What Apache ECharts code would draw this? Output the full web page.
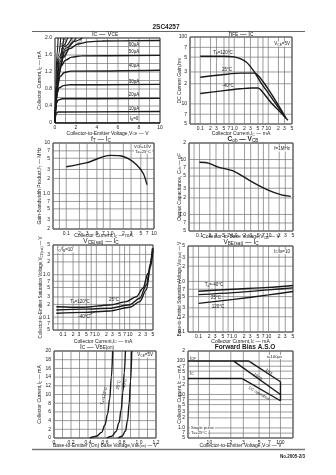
<!DOCTYPE html>
<html>
<head>
<meta charset="utf-8">
<script src="https://cdn.jsdelivr.net/npm/echarts@6/dist/echarts.min.js"></script>
<style>
html,body{margin:0;padding:0;background:#fff;}
#sheet{width:336px;height:475px;}
</style>
</head>
<body>
<div id="sheet"></div>
<script>
// ---------- IC – VCE (IC in mA, VCE in V) ----------
const vceIb60 = [[0,0],[0.15,0.6],[0.4,1.2],[0.8,1.55],[1.4,1.75],[2.2,1.86],[3.2,1.91],[4.5,1.93],[10,1.94]];
const vceIb50 = [[0,0],[0.12,0.55],[0.3,1.05],[0.6,1.35],[1.0,1.48],[1.6,1.55],[2.5,1.58],[10,1.59]];
const vceIb40 = [[0,0],[0.1,0.5],[0.25,0.9],[0.5,1.1],[0.9,1.19],[1.5,1.22],[10,1.24]];
const vceIb30 = [[0,0],[0.08,0.4],[0.2,0.7],[0.4,0.83],[0.8,0.88],[1.4,0.9],[10,0.91]];
const vceIb20 = [[0,0],[0.06,0.3],[0.15,0.47],[0.3,0.54],[0.7,0.57],[10,0.58]];
const vceIb10 = [[0,0],[0.05,0.15],[0.12,0.23],[0.3,0.26],[10,0.27]];
const vceIb0  = [[0,0],[10,0]];
const vceHighIb = [
  [[0,0],[0.08,0.9],[0.18,1.6],[0.3,2.0]],
  [[0,0],[0.1,0.85],[0.3,1.58],[0.55,2.0]],
  [[0,0],[0.12,0.8],[0.4,1.55],[0.85,2.0]],
  [[0,0],[0.13,0.75],[0.45,1.5],[0.8,1.82],[1.2,2.0]],
  [[0,0],[0.14,0.72],[0.45,1.42],[0.9,1.8],[1.6,2.0]],
  [[0,0],[0.15,0.68],[0.45,1.36],[1.0,1.76],[2.0,2.0]],
  [[0,0],[0.15,0.64],[0.45,1.3],[1.0,1.7],[1.8,1.92],[2.6,2.0]]
];
const vceIbText = ['60µA','50µA','40µA','30µA','20µA','10µA','I{s|B}=0'];
const vceHighText = ['100µA','80µA','70µA'];
const vceXGrid = [0,1,2,3,4,5,6,7,8,9,10];
const vceXLabelVals = [0,2,4,6,8,10];
const vceXLabelText = ['0','2','4','6','8','10'];
const vceYGrid = [0,0.2,0.4,0.6,0.8,1.0,1.2,1.4,1.6,1.8,2.0];
const vceYLabelVals = [0,0.4,0.8,1.2,1.6,2.0];
const vceYLabelText = ['0','0.4','0.8','1.2','1.6','2.0'];

// ---------- shared log ticks for IC / VCB axes 0.05 … 50 ----------
const decX50Grid = [0.05,0.07,0.1,0.2,0.3,0.5,0.7,1,2,3,5,7,10,20,30,50];
const decX50LabelVals = [0.1,0.2,0.3,0.5,0.7,1,2,3,5,7,10,20,30,50];
const decX50LabelText = ['0.1','2','3','5','7','1.0','2','3','5','7','10','2','3','5'];

// ---------- hFE – IC ----------
const hfeTa120 = [[0.1,51.5],[0.5,51.5],[1.0,50.5],[1.5,47.5],[2.3,42],[3,36],[4,29.5],[6,21],[10,14.5],[20,8.8],[33,6.1]];
const hfeTa25  = [[0.1,25],[0.5,27.5],[1.6,28.8],[4,28.8],[5.6,25],[7.5,20.5],[9.9,16.7],[20,9.5],[33,6.2]];
const hfeTaM40 = [[0.1,14.3],[0.5,15.8],[1.5,16.8],[3.2,17.3],[5,17.3],[7,14.8],[12,10.5],[20,8.0],[38,5.7]];
const hfeYGrid = [5,7,10,20,30,50,70,100];
const hfeYLabelText = ['5','7','10','2','3','5','7','100'];

// ---------- fT – IC ----------
const ftIc = [[0.1,3.4],[0.3,4.1],[1.0,5.7],[1.7,5.6],[2.6,4.9],[4,3.7],[5.7,2.5],[6.9,1.5]];
const ftXGrid = [0.05,0.07,0.1,0.2,0.3,0.5,0.7,1,2,3,5,7,10];
const ftXLabelVals = [0.1,0.2,0.3,0.5,0.7,1,2,3,5,7,10];
const ftXLabelText = ['0.1','2','3','5','7','1.0','2','3','5','7','10'];
const ftYGrid = [0.2,0.3,0.5,0.7,1,2,3,5,7,10];
const ftYLabelText = ['2','3','5','7','1.0','2','3','5','7','10'];

// ---------- Cob – VCB ----------
const cobVcb = [[0.1,8.9],[0.18,8.6],[0.35,7.3],[1.0,6.1],[3.1,4.0],[9.2,2.8],[22,2.3],[43,2.13]];
const cobYGrid = [0.5,0.7,1,2,3,5,7,10,20];
const cobYLabelText = ['5','7','1.0','2','3','5','7','10','2'];

// ---------- VCE(sat) – IC ----------
const vceSatTa120 = [[0.063,0.176],[0.4,0.171],[2.5,0.194],[7.9,0.232],[15.8,0.304],[25,0.48],[35.5,1.08],[50,4.2]];
const vceSatTa25  = [[0.063,0.148],[0.4,0.155],[2.5,0.162],[10,0.197],[20,0.279],[31.6,0.573],[42,1.85],[48,4.2]];
const vceSatTaM40 = [[0.063,0.124],[0.4,0.13],[2.5,0.14],[10,0.171],[20,0.232],[31.6,0.44],[42,1.54],[50,3.8]];
const vceSatYGrid = [0.05,0.07,0.1,0.2,0.3,0.5,0.7,1,2,3,5];
const vceSatYLabelText = ['5','7','0.1','2','3','5','7','1.0','2','3','5'];

// ---------- VBE(sat) – IC ----------
const vbeSatTaM40 = [[0.1,0.64],[1,0.7],[10,0.76],[50,0.83]];
const vbeSatTa25  = [[0.1,0.548],[1,0.6],[10,0.68],[50,0.745]];
const vbeSatTa120 = [[0.1,0.368],[1,0.44],[10,0.54],[50,0.63]];
const vbeSatYGrid = [0.1,0.2,0.3,0.5,0.7,1,2,3,5];
const vbeSatYLabelText = ['0.1','2','3','5','7','1.0','2','3','5'];

// ---------- IC – VBE(on) ----------
const icVbeTa120 = [[0.42,0],[0.5,0.4],[0.56,1.3],[0.6,3],[0.63,5.5],[0.655,9],[0.675,14],[0.69,20]];
const icVbeTa25  = [[0.62,0],[0.68,0.4],[0.73,1.5],[0.765,3.5],[0.79,6.5],[0.81,10.5],[0.827,15],[0.84,20]];
const icVbeTaM40 = [[0.755,0],[0.8,0.4],[0.84,1.6],[0.865,4],[0.885,8],[0.9,13],[0.915,20]];
const vbeXGrid = [0,0.1,0.2,0.3,0.4,0.5,0.6,0.7,0.8,0.9,1.0,1.1,1.2];
const vbeXLabelVals = [0,0.2,0.4,0.6,0.8,1.0,1.2];
const vbeXLabelText = ['0','0.2','0.4','0.6','0.8','1.0','1.2'];
const vbeYGrid = [0,2,4,6,8,10,12,14,16,18,20];
const vbeYLabelText = ['0','2','4','6','8','10','12','14','16','18','20'];

// ---------- Forward bias A.S.O ----------
const asoIcp   = [[5,100],[36,100]];
const aso10ms  = [[22,100],[100,10]];
const aso1ms   = [[36,100],[100,24]];
const asoIc    = [[5,30],[29,30]];
const asoDc    = [[29,30],[100,6.5]];
const asoVceo  = [[100,24],[100,6.5]];
const asoXGrid = [5,7,10,20,30,50,70,100,150];
const asoXLabelVals = [10,20,30,50,70,100];
const asoXLabelText = ['10','2','3','5','7','100'];
const asoYGrid = [0.5,0.7,1,2,3,5,7,10,20,30,50,70,100,200];
const asoYLabelText = ['5','7','1.0','2','3','5','7','10','2','3','5','7','100','2'];

// ---------- drawing ----------
const FONT = '"Liberation Sans", Arial, sans-serif';
const INK = '#1a1a1a';
const GRIDC = '#727272';

const panels = [
  {box:[55,38,105,85],  x:['value',0,10,vceXGrid,vceXLabelVals,vceXLabelText], y:['value',0,2,vceYGrid,vceYLabelVals,vceYLabelText]},
  {box:[190,37,102,87], x:['log',0.05,50,decX50Grid,decX50LabelVals,decX50LabelText], y:['log',5,100,hfeYGrid,hfeYGrid,hfeYLabelText]},
  {box:[53,143,101,86], x:['log',0.05,10,ftXGrid,ftXLabelVals,ftXLabelText], y:['log',0.2,10,ftYGrid,ftYGrid,ftYLabelText]},
  {box:[189,143,104,88],x:['log',0.05,50,decX50Grid,decX50LabelVals,decX50LabelText], y:['log',0.5,20,cobYGrid,cobYGrid,cobYLabelText]},
  {box:[53,245,100,85], x:['log',0.05,50,decX50Grid,decX50LabelVals,decX50LabelText], y:['log',0.05,5,vceSatYGrid,vceSatYGrid,vceSatYLabelText]},
  {box:[188,246,105,86],x:['log',0.05,50,decX50Grid,decX50LabelVals,decX50LabelText], y:['log',0.1,5,vbeSatYGrid,vbeSatYGrid,vbeSatYLabelText]},
  {box:[54,351,102,87], x:['value',0,1.2,vbeXGrid,vbeXLabelVals,vbeXLabelText], y:['value',0,20,vbeYGrid,vbeYGrid,vbeYLabelText]},
  {box:[188,351,105,87],x:['log',5,150,asoXGrid,asoXLabelVals,asoXLabelText], y:['log',0.5,200,asoYGrid,asoYGrid,asoYLabelText]}
];

function labeler(vals, texts) {
  return function (v) {
    for (let i = 0; i < vals.length; i++) {
      if (Math.abs(vals[i] - v) <= 1e-6 * Math.abs(vals[i]) + 1e-9) return texts[i];
    }
    return '';
  };
}

function axis(idx, spec, isY) {
  const [type, min, max, gridVals, labelVals, labelTexts] = spec;
  const a = {
    gridIndex: idx, type, min, max,
    axisLine: {show: false},
    axisTick: {show: false},
    splitLine: {show: false},
    axisLabel: {
      customValues: labelVals,
      formatter: labeler(labelVals, labelTexts),
      fontSize: 5, fontFamily: FONT, color: INK,
      margin: isY ? 3 : 2
    }
  };
  if (type === 'log') a.logBase = 10;
  return a;
}

const series = [];

// ruled graph-paper lines at the listed x / y values of each panel
function paper(p, xs, ys) {
  series.push({
    type: 'custom', xAxisIndex: p, yAxisIndex: p, silent: true, animation: false, z: 1,
    data: [[xs[0], ys[0]]],
    renderItem: function (params, api) {
      const children = [];
      const yLo = ys[0], yHi = ys[ys.length - 1];
      const xLo = xs[0], xHi = xs[xs.length - 1];
      xs.forEach(function (x) {
        const a = api.coord([x, yLo]), b = api.coord([x, yHi]);
        children.push({type: 'line', shape: {x1: a[0], y1: a[1], x2: b[0], y2: b[1]}, style: {stroke: GRIDC, lineWidth: 0.7}});
      });
      ys.forEach(function (y) {
        const a = api.coord([xLo, y]), b = api.coord([xHi, y]);
        children.push({type: 'line', shape: {x1: a[0], y1: a[1], x2: b[0], y2: b[1]}, style: {stroke: GRIDC, lineWidth: 0.7}});
      });
      return {type: 'group', children};
    }
  });
}
panels.forEach((p, i) => paper(i, p.x[3], p.y[3]));

function curve(p, data, opt) {
  opt = opt || {};
  series.push({
    type: 'line', xAxisIndex: p, yAxisIndex: p, data,
    showSymbol: false, symbol: 'none',
    smooth: opt.smooth === undefined ? 0.3 : opt.smooth,
    smoothMonotone: opt.mono,
    lineStyle: {color: INK, width: opt.w || 1.4},
    silent: true, animation: false, z: 3
  });
}

[vceIb60, vceIb50, vceIb40, vceIb30, vceIb20, vceIb10, vceIb0].forEach(d => curve(0, d, {mono: 'x', smooth: 0.4}));
vceHighIb.forEach(d => curve(0, d, {mono: 'x', smooth: 0.4, w: 1.1}));
[hfeTa120, hfeTa25, hfeTaM40].forEach(d => curve(1, d));
curve(2, ftIc);
curve(3, cobVcb);
[vceSatTa120, vceSatTa25, vceSatTaM40].forEach(d => curve(4, d, {mono: 'x'}));
[vbeSatTaM40, vbeSatTa25, vbeSatTa120].forEach(d => curve(5, d));
[icVbeTa120, icVbeTa25, icVbeTaM40].forEach(d => curve(6, d, {mono: 'x', smooth: 0.4}));
[asoIcp, aso10ms, aso1ms, asoIc, asoDc, asoVceo].forEach(d => curve(7, d, {smooth: false}));

function rich(size) {
  return {s: {fontSize: size * 0.72, fontFamily: FONT, fill: INK, verticalAlign: 'bottom'}};
}
function txt(x, y, text, o) {
  o = o || {};
  const size = o.size || 5;
  const st = {
    text, fontSize: size, fontFamily: FONT, fontWeight: o.bold ? 'bold' : 'normal',
    fill: o.color || INK, textAlign: o.align || 'center', textVerticalAlign: 'middle',
    align: o.align || 'center', verticalAlign: 'middle', rich: rich(size)
  };
  if (o.bg) { st.backgroundColor = '#fff'; st.padding = [0, 1]; }
  return {type: 'text', x, y, rotation: o.rot || 0, z: 20, silent: true, style: st};
}
function rule(x1, y1, x2, y2, w, c) {
  return {type: 'line', z: 20, silent: true, shape: {x1, y1, x2, y2}, style: {stroke: c || INK, lineWidth: w || 1}};
}
const R90 = Math.PI / 2;

const graphics = [
  // page header / footer
  txt(166, 27, '2SC4257', {size: 6.5, bold: true}),
  rule(32, 31.5, 305, 31.5, 1, '#666'),
  rule(32, 449.5, 305, 449.5, 1.5, '#777'),
  txt(305, 457, 'No.2005-2/3', {size: 4.5, bold: true, align: 'right'}),

  // panel titles
  txt(105, 34, 'I{s|C} — V{s|CE}', {size: 6.5}),
  txt(241, 34, 'h{s|FE} — I{s|C}', {size: 6.5}),
  txt(101, 139.5, 'f{s|T} — I{s|C}', {size: 6.5}),
  txt(243, 139.5, 'C{s|ob} — V{s|CB}', {size: 6.5, bold: true}),
  txt(101, 241.5, 'V{s|CE(sat)} — I{s|C}', {size: 6.5}),
  txt(241, 242.5, 'V{s|BE(sat)} — I{s|C}', {size: 6.5}),
  txt(97, 347, 'I{s|C} — V{s|BE(on)}', {size: 6.5}),
  txt(245, 347, 'Forward Bias A.S.O', {size: 6.5, bold: true}),

  // x-axis names
  txt(107.5, 133.5, 'Collector-to-Emitter Voltage,V{s|CE} — V'),
  txt(241, 134, 'Collector Current,I{s|C} — mA'),
  txt(103.5, 236, 'Collector Current,I{s|C} — mA'),
  txt(241, 237, 'Collector-to-Base Voltage,V{s|CB} — V'),
  txt(103, 341.5, 'Collector Current,I{s|C} — mA'),
  txt(240.5, 341.5, 'Collector Current,I{s|C} — mA'),
  txt(105, 445.5, 'Base-to-Emitter (On) Base Voltage,V{s|BE(on)} — V'),
  txt(240.5, 445.5, 'Collector-to-Emitter Voltage,V{s|CE} — V'),

  // y-axis names
  txt(40, 80.5, 'Collector Current,I{s|C} — mA', {rot: R90}),
  txt(179.5, 80.5, 'DC Current Gain,h{s|FE}', {rot: R90}),
  txt(40, 186, 'Gain-Bandwidth Product,f{s|T} — MHz', {rot: R90}),
  txt(179.5, 187, 'Output Capacitance, C{s|ob} — pF', {rot: R90}),
  txt(41, 287.5, 'Collector-to-Emitter Saturation Voltage,V{s|CE(sat)} — V', {rot: R90, size: 4.5}),
  txt(179.5, 289, 'Base-to-Emitter Saturation Voltage,V{s|BE(sat)} — V', {rot: R90, size: 4.5}),
  txt(40, 394.5, 'Collector Current,I{s|C} — mA', {rot: R90}),
  txt(179.5, 394.5, 'Collector Current,I{s|C} — mA', {rot: R90}),

  // IC – VCE curve labels
  txt(134, 45, vceIbText[0], {size: 4.5}),
  txt(134, 51.7, vceIbText[1], {size: 4.5}),
  txt(134, 66, vceIbText[2], {size: 4.5}),
  txt(134, 81.5, vceIbText[3], {size: 4.5}),
  txt(134, 94.5, vceIbText[4], {size: 4.5}),
  txt(134, 108.3, vceIbText[5], {size: 4.5}),
  txt(134, 119, vceIbText[6], {size: 4.5}),
  txt(62.5, 44, vceHighText[0], {size: 3.8, rot: 1.25}),
  txt(71, 42, vceHighText[1], {size: 3.8, rot: 1.2}),
  txt(80, 42, vceHighText[2], {size: 3.8, rot: 1.1}),

  // hFE labels
  txt(291, 44, 'V{s|CE}=5V', {size: 4.5, align: 'right', bg: true}),
  txt(223, 52.5, 'T{s|a}=120°C', {size: 4.5}),
  txt(227, 70, '25°C', {size: 4.5}),
  txt(228, 85.5, '-40°C', {size: 4.5}),

  // fT labels
  txt(152, 147, 'V{s|CE}=10V', {size: 4.2, align: 'right', bg: true}),
  txt(152, 151.5, 'T{s|a}=25°C', {size: 4.2, align: 'right', bg: true}),

  // Cob label
  txt(291, 149, 'f=1MHz', {size: 4.5, align: 'right', bg: true}),

  // VCE(sat) labels
  txt(56, 250, 'I{s|C}/I{s|B}=10', {size: 4.5, align: 'left', bg: true}),
  txt(80, 301.5, 'T{s|a}=120°C', {size: 4.5}),
  txt(114, 300, '25°C', {size: 4.5}),
  txt(84, 317, '-40°C', {size: 4.5}),
  rule(89, 315, 95, 311.5, 0.6),

  // VBE(sat) labels
  txt(291, 251.5, 'I{s|C}/I{s|B}=10', {size: 4.5, align: 'right', bg: true}),
  txt(214, 285, 'T{s|a}=-40°C', {size: 4.5}),
  txt(216, 297.5, '25°C', {size: 4.5}),
  txt(218, 307, '120°C', {size: 4.5}),

  // IC – VBE labels
  txt(154, 355, 'V{s|CE}=5V', {size: 4.5, align: 'right', bg: true}),
  txt(104, 396, 'T{s|a}=120°C', {size: 4.2, rot: 1.35}),
  txt(118.5, 385, '25°C', {size: 4.2, rot: 1.4}),
  txt(124.5, 384, '-40°C', {size: 4.2, rot: 1.4}),

  // A.S.O labels
  txt(283, 357, 't=100µs', {size: 4.2, align: 'right', bg: true}),
  txt(190, 358.5, 'I{s|CP}', {size: 4.5, align: 'left'}),
  txt(190, 373.5, 'I{s|C}', {size: 4.5, align: 'left'}),
  txt(269, 371.5, '1ms', {size: 4, rot: -0.58}),
  txt(258, 376.5, '10ms', {size: 4, rot: -0.6}),
  txt(259, 393.5, 'DC operation', {size: 4, rot: -0.52}),
  txt(190, 428, 'Single pulse', {size: 4.2, align: 'left', bg: true}),
  txt(190, 433, 'T{s|a}=25°C', {size: 4.2, align: 'left', bg: true})
];

const chart = echarts.init(document.getElementById('sheet'), null, {renderer: 'canvas', width: 336, height: 475});
chart.setOption({
  backgroundColor: '#ffffff',
  animation: false,
  grid: panels.map(p => ({
    left: p.box[0], top: p.box[1], width: p.box[2], height: p.box[3],
    show: true, borderColor: INK, borderWidth: 0.9, containLabel: false
  })),
  xAxis: panels.map((p, i) => axis(i, p.x, false)),
  yAxis: panels.map((p, i) => axis(i, p.y, true)),
  series,
  graphic: {elements: graphics}
});
</script>
</body>
</html>
